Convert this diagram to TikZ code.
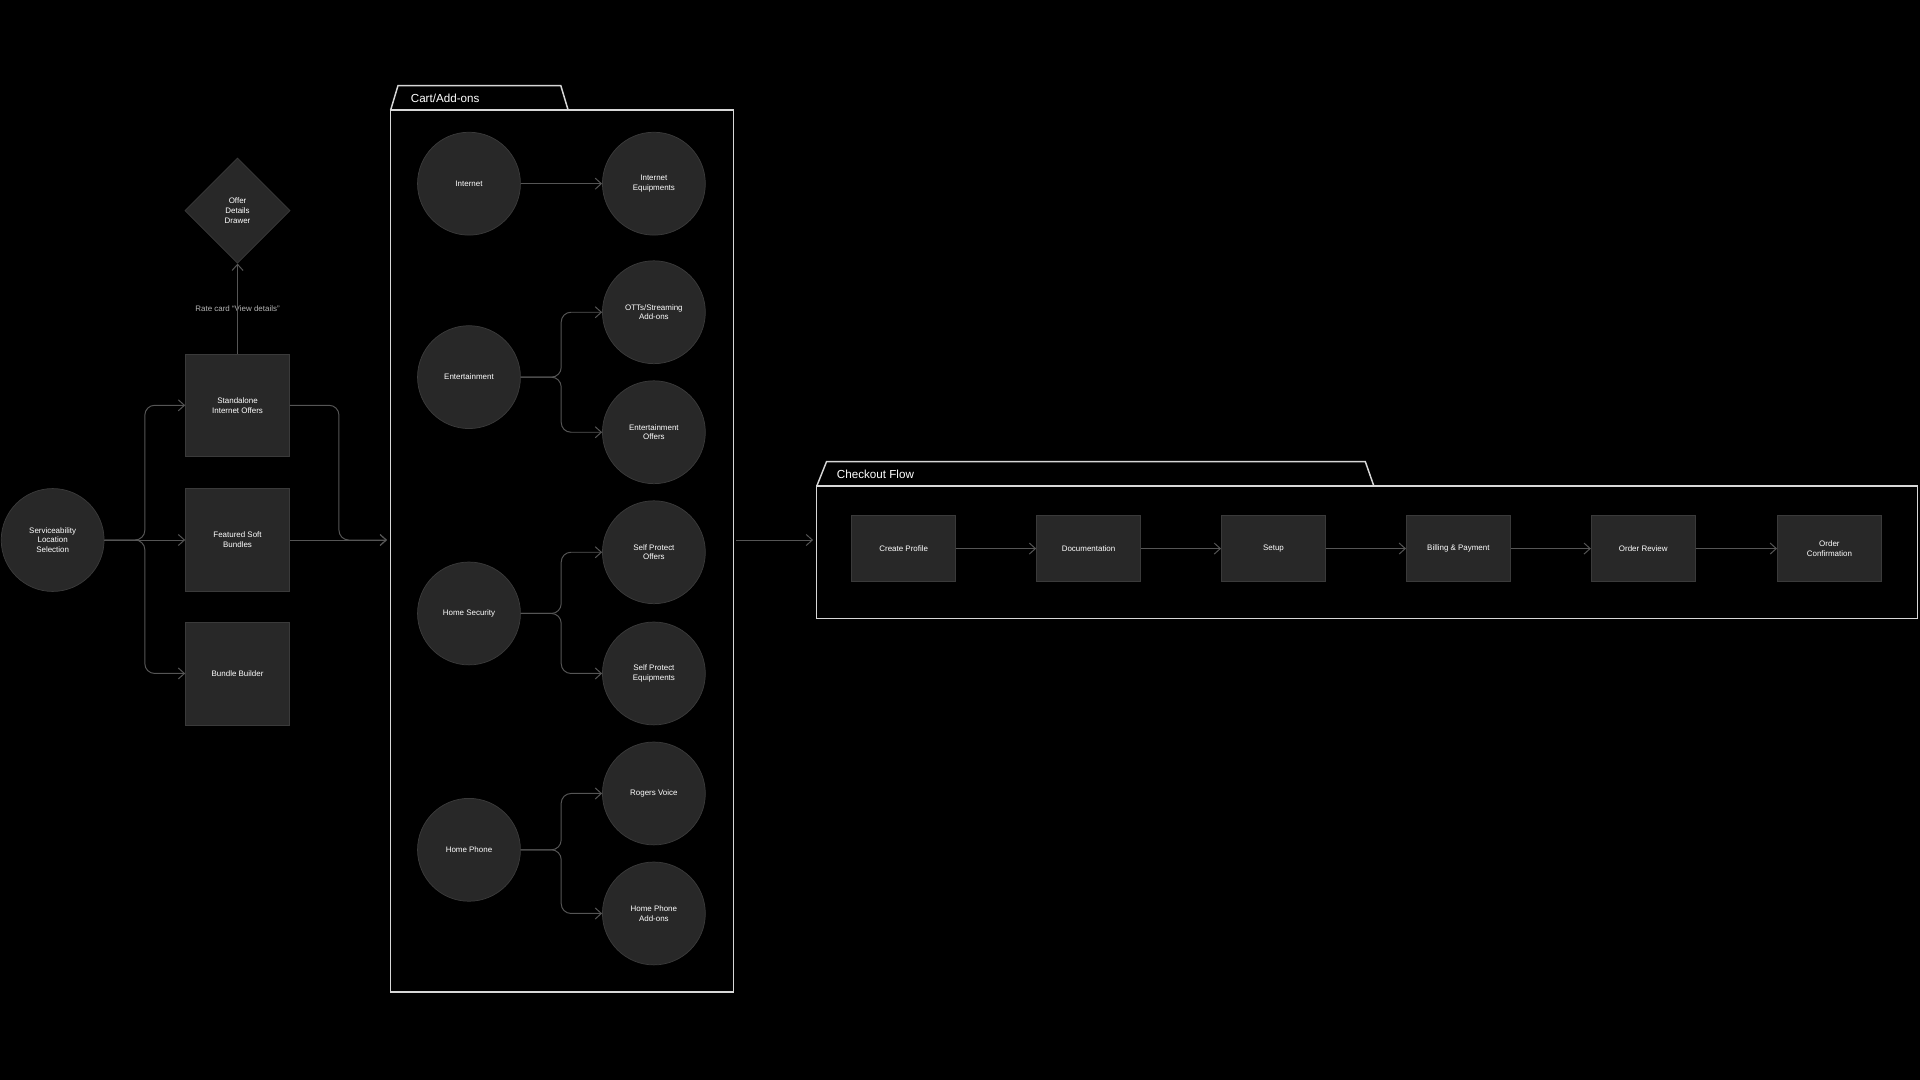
\documentclass[tikz,border=0pt]{standalone}
\usepackage{fontspec}
\setmainfont{Liberation Sans}
\usetikzlibrary{arrows.meta,shapes.geometric}
\definecolor{bg_black}{RGB}{0,0,0}
\definecolor{node_fill}{RGB}{40,40,40}
\definecolor{node_edge}{RGB}{58,58,58}
\definecolor{edge_gray}{RGB}{85,85,85}
\definecolor{frame_white}{RGB}{215,215,215}
\definecolor{label_gray}{RGB}{180,180,180}

\begin{document}
\begin{tikzpicture}[x=1pt,y=-1pt,>={Straight Barb[length=5pt,width=9pt]},font=\fontsize{6.5}{8}\selectfont]
    \tikzstyle{node}=[draw=node_edge, fill=node_fill, text=white, align=center, line width=0.6pt]
    \tikzstyle{circ}=[style=node, circle, minimum size=84pt, inner sep=0pt]
    \tikzstyle{box}=[style=node, rectangle, minimum width=85pt, minimum height=84pt, inner sep=0pt]
    \tikzstyle{flow}=[style=node, rectangle, minimum width=85pt, minimum height=54pt, inner sep=0pt]
    \tikzstyle{dia}=[style=node, diamond, minimum size=86pt, inner sep=0pt]
    \tikzstyle{link}=[draw=edge_gray, line width=0.8pt, rounded corners=8pt, ->]
    \tikzstyle{frame}=[draw=frame_white, line width=1.2pt]

    \fill[bg_black] (0,0) rectangle (1568,882);
    \useasboundingbox (0,0) rectangle (1568,882);

    % entry
    \node[circ] (loc)  at (43,441)  {Serviceability\\Location\\Selection};
    \node[box]  (sia)  at (194,331) {Standalone\\Internet Offers};
    \node[box]  (fsb)  at (194,441) {Featured Soft\\Bundles};
    \node[box]  (bb)   at (194,550) {Bundle Builder};
    \node[dia]  (odd)  at (194,172) {Offer\\Details\\Drawer};
    \node[text=label_gray] (rc) at (194,252) {Rate card ``View details''};

    % cart frame
    \draw[frame] (319,90) -- (325,70) -- (458,70) -- (464,90);
    \draw[frame] (319,90) rectangle (599,810);
    \node[text=white, anchor=west, font=\fontsize{9.5}{11}\selectfont] (cart) at (332,80) {Cart/Add-ons};
    \coordinate (cin)  at (316,441);
    \coordinate (cout) at (601,441);

    \node[circ] (net)  at (383,150) {Internet};
    \node[circ] (ent)  at (383,308) {Entertainment};
    \node[circ] (hs)   at (383,501) {Home Security};
    \node[circ] (hp)   at (383,694) {Home Phone};
    \node[circ] (neq)  at (534,150) {Internet\\Equipments};
    \node[circ] (ott)  at (534,255) {OTTs/Streaming\\Add-ons};
    \node[circ] (eo)   at (534,353) {Entertainment\\Offers};
    \node[circ] (spo)  at (534,451) {Self Protect\\Offers};
    \node[circ] (spe)  at (534,550) {Self Protect\\Equipments};
    \node[circ] (rv)   at (534,648) {Rogers Voice};
    \node[circ] (hpa)  at (534,746) {Home Phone\\Add-ons};

    % checkout frame
    \draw[frame] (667,397) -- (675,377) -- (1115,377) -- (1122,397);
    \draw[frame] (667,397) rectangle (1566,505);
    \node[text=white, anchor=west, font=\fontsize{9.5}{11}\selectfont] (chk) at (680,387) {Checkout Flow};
    \coordinate (kin) at (664,441);

    \node[flow] (cp)  at (738,448)  {Create Profile};
    \node[flow] (doc) at (889,448)  {Documentation};
    \node[flow] (su)  at (1040,448) {Setup};
    \node[flow] (bp)  at (1191,448) {Billing \& Payment};
    \node[flow] (orv) at (1342,448) {Order Review};
    \node[flow] (oc)  at (1494,448) {Order\\Confirmation};

    \draw[link] (loc.east) -- ++(33,0) |- (sia.west);
    \draw[link] (loc.east) -- (fsb.west);
    \draw[link] (loc.east) -- ++(33,0) |- (bb.west);
    \draw[link] (sia.north) -- (odd.south);
    \draw[link] (sia.east) -- ++(40,0) |- (cin);
    \draw[link] (fsb.east) -- (cin);
    \draw[link] (net.east) -- (neq.west);
    \draw[link] (ent.east) -- ++(33,0) |- (ott.west);
    \draw[link] (ent.east) -- ++(33,0) |- (eo.west);
    \draw[link] (hs.east) -- ++(33,0) |- (spo.west);
    \draw[link] (hs.east) -- ++(33,0) |- (spe.west);
    \draw[link] (hp.east) -- ++(33,0) |- (rv.west);
    \draw[link] (hp.east) -- ++(33,0) |- (hpa.west);
    \draw[link] (cout) -- (kin);
    \foreach \a/\b in {cp/doc,doc/su,su/bp,bp/orv,orv/oc}
      \draw[link] (\a.east) -- (\b.west);
\end{tikzpicture}
\end{document}
